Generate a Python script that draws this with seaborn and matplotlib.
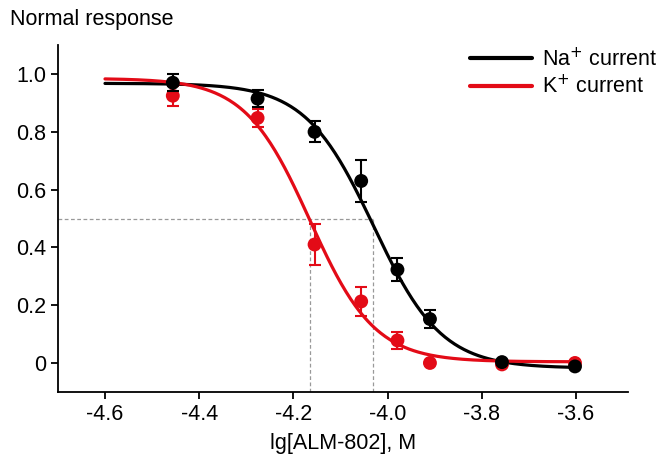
import numpy as np
import pandas as pd
import matplotlib
matplotlib.use("Agg")
import matplotlib.pyplot as plt
import seaborn as sns

# log concentrations of ALM-802, M
lg_conc = [-4.456, -4.276, -4.155, -4.056, -3.979, -3.91, -3.757, -3.602]

na_resp = [0.97, 0.915, 0.80, 0.63, 0.323, 0.152, 0.003, -0.012]
na_err = [0.03, 0.03, 0.036, 0.072, 0.04, 0.032, 0.0, 0.0]

k_resp = [0.925, 0.848, 0.41, 0.213, 0.078, 0.0, -0.005, 0.0]
k_err = [0.035, 0.03, 0.07, 0.05, 0.03, 0.0, 0.0, 0.0]

# Hill fit parameters: top, bottom, lgIC50, slope
na_fit = dict(top=0.968, bottom=-0.018, ic50=-4.03, hill=6.0)
k_fit = dict(top=0.985, bottom=0.004, ic50=-4.165, hill=6.3)

RED = "#e30b17"


def hill(x, top, bottom, ic50, hill):
    return bottom + (top - bottom) / (1 + 10 ** ((x - ic50) * hill))


sns.set_style("ticks")
plt.rcParams["font.family"] = ["Liberation Sans", "DejaVu Sans"]
plt.rcParams["text.color"] = "black"
plt.rcParams["axes.labelcolor"] = "black"
plt.rcParams["xtick.color"] = "black"
plt.rcParams["ytick.color"] = "black"

fig = plt.figure(figsize=(6.58, 4.61), dpi=100)
ax = fig.add_axes([0.088, 0.150, 0.866, 0.752])

xs = np.linspace(-4.6, -3.6, 300)
curves = pd.DataFrame({
    "x": np.concatenate([xs, xs]),
    "y": np.concatenate([hill(xs, **na_fit), hill(xs, **k_fit)]),
    "series": ["Na$^{+}$ current"] * len(xs) + ["K$^{+}$ current"] * len(xs),
})

# guide lines at half response
ax.plot([-4.7, na_fit["ic50"]], [0.5, 0.5], ls=(0, (3, 2)), color="#999999", lw=0.9, zorder=1)
ax.plot([na_fit["ic50"], na_fit["ic50"]], [-0.1, 0.5], ls=(0, (3, 2)), color="#999999", lw=0.9, zorder=1)
ax.plot([k_fit["ic50"], k_fit["ic50"]], [-0.1, 0.5], ls=(0, (3, 2)), color="#999999", lw=0.9, zorder=1)

sns.lineplot(data=curves, x="x", y="y", hue="series",
             palette=["black", RED], lw=2.3, ax=ax, zorder=3)

ax.errorbar(lg_conc, k_resp, yerr=k_err, fmt="none", ecolor=RED,
            elinewidth=1.5, capsize=4, capthick=1.5, zorder=4)
sns.scatterplot(x=lg_conc, y=k_resp, color=RED, s=100, edgecolor="none",
                ax=ax, zorder=5, legend=False)
ax.errorbar(lg_conc, na_resp, yerr=na_err, fmt="none", ecolor="black",
            elinewidth=1.5, capsize=4, capthick=1.5, zorder=6)
sns.scatterplot(x=lg_conc, y=na_resp, color="black", s=100, edgecolor="none",
                ax=ax, zorder=7, legend=False)

ax.set_xlim(-4.7, -3.49)
ax.set_ylim(-0.1, 1.1)
ax.set_xticks([-4.6, -4.4, -4.2, -4.0, -3.8, -3.6])
ax.set_xticklabels(["-4.6", "-4.4", "-4.2", "-4.0", "-3.8", "-3.6"])
ax.set_yticks([0, 0.2, 0.4, 0.6, 0.8, 1.0])
ax.set_yticklabels(["0", "0.2", "0.4", "0.6", "0.8", "1.0"])
ax.tick_params(labelsize=15.5, width=1.3, length=5, color="black")
for s in ["left", "bottom"]:
    ax.spines[s].set_linewidth(1.3)
    ax.spines[s].set_color("black")
sns.despine(ax=ax)

ax.set_xlabel("lg[ALM-802], M", fontsize=15.5, labelpad=6)
ax.set_ylabel("")
fig.text(0.015, 0.957, "Normal response", fontsize=15.5, ha="left", va="center")

leg = ax.legend(loc="upper right", bbox_to_anchor=(1.003, 0.902),
                bbox_transform=fig.transFigure, frameon=False, fontsize=15.5,
                handlelength=2.9, handletextpad=0.45, labelspacing=0.2,
                borderaxespad=0.0, borderpad=0.1)
for line in leg.get_lines():
    line.set_linewidth(3)

fig.savefig("out.png", dpi=100)
